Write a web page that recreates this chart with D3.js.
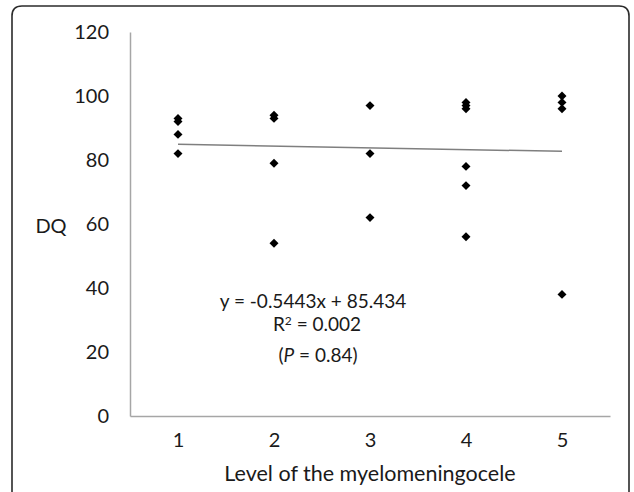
<!DOCTYPE html>
<html>
<head>
<meta charset="utf-8">
<script src="https://cdn.jsdelivr.net/npm/d3@7"></script>
<style>
    body { margin: 0; background: #fff; }
    svg text { font-family: Lato, "Open Sans", sans-serif; fill: #1a1a1a; }
</style>
</head>
<body>
<div id="chart"></div>
<script>
// data
const levels = [1, 2, 3, 4, 5]
const xValues = [1, 1, 1, 1, 2, 2, 2, 2, 3, 3, 3, 4, 4, 4, 4, 4, 4, 5, 5, 5, 5]
const dqValues = [93, 92, 88, 82, 94, 93, 79, 54, 97, 82, 62, 98, 97, 96, 78, 72, 56, 100, 98, 96, 38]
const yTicks = [0, 20, 40, 60, 80, 100, 120]
const trendSlope = -0.5443
const trendIntercept = 85.434
const equationText = "y = -0.5443x + 85.434"
const rSquaredText = " = 0.002"

const width = 634
const height = 492
let margin = { top: 32, right: 24, bottom: 76, left: 130 }

const svg = d3.select("#chart")
    .append("svg")
    .attr("width", width)
    .attr("height", height)

// outer frame (open at the bottom)
svg.append("path")
    .attr("d", "M12,492 L12,16 Q12,6 22,6 L619,6 Q629,6 629,16 L629,492")
    .attr("fill", "none")
    .attr("stroke", "#2b2b2b")
    .attr("stroke-width", 1.6)

let x = d3.scaleLinear()
    .domain([0.5, 5.5])
    .range([margin.left, width - margin.right])

let y = d3.scaleLinear()
    .domain([0, 120])
    .range([height - margin.bottom, margin.top])

// X axis
const xAxis = d3.axisBottom(x)
    .tickValues(levels)
    .tickFormat(d3.format("d"))
    .tickSize(0)
    .tickPadding(17)

const gx = svg.append("g")
    .attr("transform", "translate(0," + y(0) + ")")
    .call(xAxis)

// Y axis
const yAxis = d3.axisLeft(y)
    .tickValues(yTicks)
    .tickSize(0)
    .tickPadding(21)

const gy = svg.append("g")
    .attr("transform", "translate(" + x(0.5) + ",0)")
    .call(yAxis)

svg.selectAll(".domain")
    .attr("stroke", "#a6a6a6")
    .attr("stroke-width", 1.5)

svg.selectAll(".tick text")
    .attr("font-size", 20)
    .attr("font-family", "Lato")
    .style("fill", "#1a1a1a")

gx.selectAll(".tick text").attr("dy", "0.71em")

// axis titles
svg.append("text")
    .attr("x", x(3))
    .attr("y", 481)
    .attr("text-anchor", "middle")
    .attr("font-size", 21.5)
    .text("Level of the myelomeningocele")

svg.append("text")
    .attr("x", 51)
    .attr("y", y(60) + 9)
    .attr("text-anchor", "middle")
    .attr("font-size", 20)
    .text("DQ")

// trend line
svg.append("line")
    .attr("x1", x(levels[0]))
    .attr("x2", x(levels[levels.length - 1]))
    .attr("y1", y(trendSlope * levels[0] + trendIntercept))
    .attr("y2", y(trendSlope * levels[levels.length - 1] + trendIntercept))
    .attr("stroke", "#7f7f7f")
    .attr("stroke-width", 1.5)

// points
const diamond = d3.symbol().type(d3.symbolSquare).size(40)
svg.append("g")
    .selectAll("path")
    .data(dqValues)
    .enter()
    .append("path")
    .attr("d", diamond)
    .attr("transform", (d, i) => "translate(" + x(xValues[i]) + "," + y(d) + ") rotate(45)")
    .attr("fill", "#000")

// equation
svg.append("text")
    .attr("x", 313)
    .attr("y", 308)
    .attr("text-anchor", "middle")
    .attr("font-size", 19)
    .text(equationText)

const r2 = svg.append("text")
    .attr("x", 317)
    .attr("y", 331)
    .attr("text-anchor", "middle")
    .attr("font-size", 19)
r2.append("tspan").text("R")
r2.append("tspan").attr("font-size", 12).attr("dy", -6).text("2")
r2.append("tspan").attr("dy", 6).text(rSquaredText)

const pText = svg.append("text")
    .attr("x", 318)
    .attr("y", 362)
    .attr("text-anchor", "middle")
    .attr("font-size", 19)
pText.append("tspan").text("(")
pText.append("tspan").attr("font-style", "italic").text("P")
pText.append("tspan").text(" = 0.84)")
</script>
</body>
</html>
